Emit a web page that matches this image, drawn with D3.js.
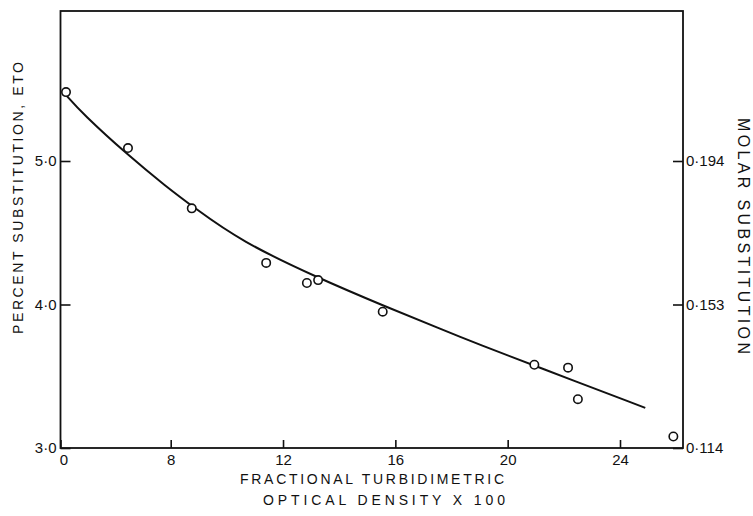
<!DOCTYPE html>
<html>
<head>
<meta charset="utf-8">
<script src="https://cdn.jsdelivr.net/npm/d3@7"></script>
<style>
  body { margin: 0; background: #fff; }
  text { font-family: "Liberation Sans", Arial, sans-serif; fill: #111; }
</style>
</head>
<body>
<div id="container"></div>
<script>
// tick values
const xTicks = [0, 8, 12, 16, 20, 24];
const yTicks = [3, 4, 5];
const msTicks = [0.114, 0.153, 0.194];

// measured points
const pointX = [0.4, 4.9, 8.75, 11.4, 12.85, 13.25, 15.55, 20.95, 22.15, 22.5, 25.9];
const pointY = [5.48, 5.09, 4.67, 4.29, 4.15, 4.17, 3.95, 3.58, 3.56, 3.34, 3.08];

// fitted curve
const fitX = [0.4, 1.6, 4.9, 7.7, 8.8, 10.5, 13.3, 15.6, 17.6, 19.0, 21.0, 24.9];
const fitY = [5.46, 5.33, 5.04, 4.82, 4.68, 4.44, 4.18, 3.99, 3.83, 3.72, 3.57, 3.28];

const W = 753, H = 516;
const frame = { left: 60.5, right: 683, top: 11, bottom: 448 };

const svg = d3.select("#container").append("svg")
  .attr("width", W)
  .attr("height", H);

// x axis is compressed between 0 and 8 in the original figure
const x = d3.scaleLinear().domain([0, 8, 24]).range([frame.left, 170.7, 620]);
const y = d3.scaleLinear().domain([3, 5]).range([frame.bottom, 161]);
// molar substitution ticks sit level with 3, 4 and 5 percent
const yR = d3.scaleLinear().domain(msTicks).range(yTicks.map(y));

const dot = s => s.replace(".", "\u00B7");

// frame
svg.append("rect")
  .attr("x", frame.left)
  .attr("y", frame.top)
  .attr("width", frame.right - frame.left)
  .attr("height", frame.bottom - frame.top)
  .attr("fill", "none")
  .attr("stroke", "#111")
  .attr("stroke-width", 1.8);

// axes
const gx = svg.append("g")
  .attr("transform", `translate(0,${frame.bottom})`)
  .call(d3.axisBottom(x).tickValues(xTicks).tickSize(-8).tickPadding(6).tickFormat(d3.format("d")));

const gy = svg.append("g")
  .attr("transform", `translate(${frame.left},0)`)
  .call(d3.axisLeft(y).tickValues(yTicks).tickSize(-10).tickPadding(4).tickFormat(d => dot(d.toFixed(1))));

const gr = svg.append("g")
  .attr("transform", `translate(${frame.right},0)`)
  .call(d3.axisRight(yR).tickValues(msTicks).tickSize(-10).tickPadding(3).tickFormat(d => dot(d.toFixed(3))));

[gx, gy, gr].forEach(g => {
  g.select(".domain").remove();
  g.selectAll(".tick line").attr("stroke", "#111").attr("stroke-width", 1.6);
  g.selectAll(".tick text")
    .attr("fill", "#111")
    .style("font-size", "15px")
    .style("font-family", "\"Liberation Sans\", Arial, sans-serif");
});
gx.selectAll(".tick text").filter(d => d === 0).attr("x", 3);

// fitted curve
const fit = fitX.map((v, i) => [v, fitY[i]]);
svg.append("path")
  .datum(fit)
  .attr("fill", "none")
  .attr("stroke", "#111")
  .attr("stroke-width", 2)
  .attr("d", d3.line().x(d => x(d[0])).y(d => y(d[1])).curve(d3.curveBasis));

// data points
const pts = pointX.map((v, i) => [v, pointY[i]]);
svg.selectAll("circle.pt")
  .data(pts)
  .enter()
  .append("circle")
  .attr("class", "pt")
  .attr("cx", d => x(d[0]))
  .attr("cy", d => y(d[1]))
  .attr("r", 4.2)
  .attr("fill", "#fff")
  .attr("stroke", "#111")
  .attr("stroke-width", 1.6);

// axis titles
svg.append("text")
  .attr("transform", "translate(18,198) rotate(-90)")
  .attr("text-anchor", "middle")
  .attr("dominant-baseline", "central")
  .attr("textLength", 272)
  .attr("lengthAdjust", "spacing")
  .style("font-size", "14px")
  .text("PERCENT  SUBSTITUTION,  ETO");

svg.append("text")
  .attr("transform", "translate(743,236) rotate(90)")
  .attr("text-anchor", "middle")
  .attr("dominant-baseline", "central")
  .attr("textLength", 236)
  .attr("lengthAdjust", "spacing")
  .style("font-size", "16px")
  .text("MOLAR  SUBSTITUTION");

svg.append("text")
  .attr("x", 372)
  .attr("y", 479)
  .attr("text-anchor", "middle")
  .attr("dominant-baseline", "central")
  .attr("textLength", 264)
  .attr("lengthAdjust", "spacing")
  .style("font-size", "14px")
  .text("FRACTIONAL  TURBIDIMETRIC");

svg.append("text")
  .attr("x", 384)
  .attr("y", 500)
  .attr("text-anchor", "middle")
  .attr("dominant-baseline", "central")
  .attr("textLength", 242)
  .attr("lengthAdjust", "spacing")
  .style("font-size", "14px")
  .text("OPTICAL  DENSITY  X  100");
</script>
</body>
</html>
